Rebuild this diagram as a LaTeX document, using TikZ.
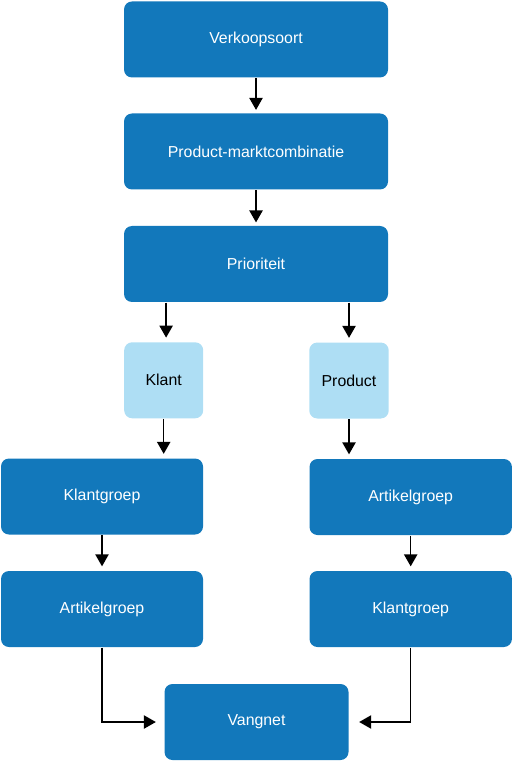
\documentclass[tikz,border=0pt]{standalone}
\usepackage{fontspec}
\setmainfont{Liberation Sans}
\usetikzlibrary{arrows.meta, positioning, calc}

\begin{document}
\begin{tikzpicture}[x=0.75pt, y=-0.75pt, line width=1pt,
  darkbox/.style={rectangle, rounded corners=6pt, fill=boxblue, text=white,
    minimum height=57pt, inner sep=0pt, font=\fontsize{11.9}{14}\selectfont},
  lightbox/.style={darkbox, fill=lightblue, text=black},
  arr/.style={-{Triangle[length=9pt, width=10pt]}, shorten >=3pt}]

%colours
\definecolor{boxblue}{HTML}{1278BB}
\definecolor{lightblue}{HTML}{AEDEF4}

\useasboundingbox (0,0) rectangle (513,762);

%boxes
  \node[darkbox, minimum width=198pt] (verk) at (256,39.5) {Verkoopsoort};
  \node[darkbox, minimum width=198pt] (pmc) at (256,151.5) {Product-marktcombinatie};
  \node[darkbox, minimum width=198pt] (prio) at (256,264) {Prioriteit};
  \node[lightbox, minimum width=59.3pt] (klant) at (163.7,380.3) {Klant};
  \node[lightbox, minimum width=59.6pt] (prod) at (349,380.5) {Product};
  \node[darkbox, minimum width=151.5pt] (kgL) at (102,496.5) {Klantgroep};
  \node[darkbox, minimum width=151.8pt] (agR) at (410.7,497) {Artikelgroep};
  \node[darkbox, minimum width=151.5pt] (agL) at (102,609) {Artikelgroep};
  \node[darkbox, minimum width=151.8pt] (kgR) at (410.7,609) {Klantgroep};
  \node[darkbox, minimum width=138pt] (vang) at (256.5,722) {Vangnet};

%arrows
  \draw[arr, shorten >=2.2pt] (verk) -- (pmc);
  \draw[arr, shorten >=2.2pt] (pmc) -- (prio);
  \draw[arr] ([xshift=1.8pt]prio.south -| klant.north) -- ([xshift=1.8pt]klant.north);
  \draw[arr] (prio.south -| prod.north) -- (prod.north);
  \draw[arr] (klant.south) -- (klant.south |- kgL.north);
  \draw[arr] (prod.south) -- (prod.south |- agR.north);
  \draw[arr] (kgL) -- (agL);
  \draw[arr] (agR) -- (kgR);
  \draw[arr, shorten >=6pt] (agL.south) |- (vang.west);
  \draw[arr, shorten >=7.5pt] (kgR.south) |- (vang.east);
\end{tikzpicture}
\end{document}
